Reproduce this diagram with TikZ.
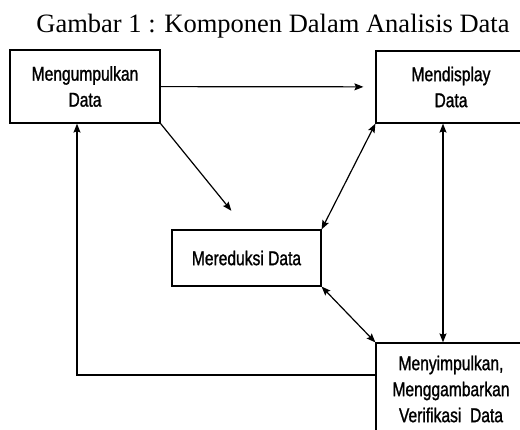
\documentclass[tikz,border=0pt]{standalone}
\usepackage{fontspec}
\setmainfont{Liberation Serif}
\newfontfamily\kotakfont[FakeStretch=0.78,FakeBold=1.2]{Liberation Sans}
\usetikzlibrary{arrows.meta,shapes,chains}

\tikzset{kotak/.style={shape=rectangle,draw=black,line width=1.2pt,minimum width=150pt,align=center,
    font=\kotakfont\fontsize{20}{26}\selectfont}}

\begin{document}
\begin{tikzpicture}[->,>={Stealth[length=9pt,width=7pt,inset=1.5pt]},auto,line width=1.2pt,x=1pt,y=-1pt]
                \useasboundingbox (0,0) rectangle (520,430);
                \node[style={},anchor=base,font=\fontsize{26.5}{30}\selectfont](judul)at(273, 33){Gambar 1 : Komponen Dalam Analisis Data};
                \node[kotak,minimum height=73pt](kumpul)at(85, 86.5){Mengumpulkan\\Data};
                \node[kotak,minimum height=72pt](display)at(451, 87){Mendisplay\\Data};
                \node[kotak,minimum width=149pt,minimum height=56pt](reduksi)at(246.5, 258){Mereduksi Data};
                \node[kotak,minimum height=92pt](simpul)at(451, 389){Menyimpulkan,\\Menggambarkan\\Verifikasi~~Data};
                \path[](kumpul) edge[shorten >=12pt] (display)
                (kumpul.south east) edge[shorten >=24pt] (reduksi.north)
                (display.south west) edge[<->] (reduksi.north east)
                ([xshift=-8pt]display.south) edge[<->] ([xshift=-8pt]simpul.north)
                (reduksi.south east) edge[<->] (simpul.north west);
                \draw[->] ([yshift=14pt]simpul.west) -| ([xshift=-8pt]kumpul.south);
            \end{tikzpicture}
\end{document}
